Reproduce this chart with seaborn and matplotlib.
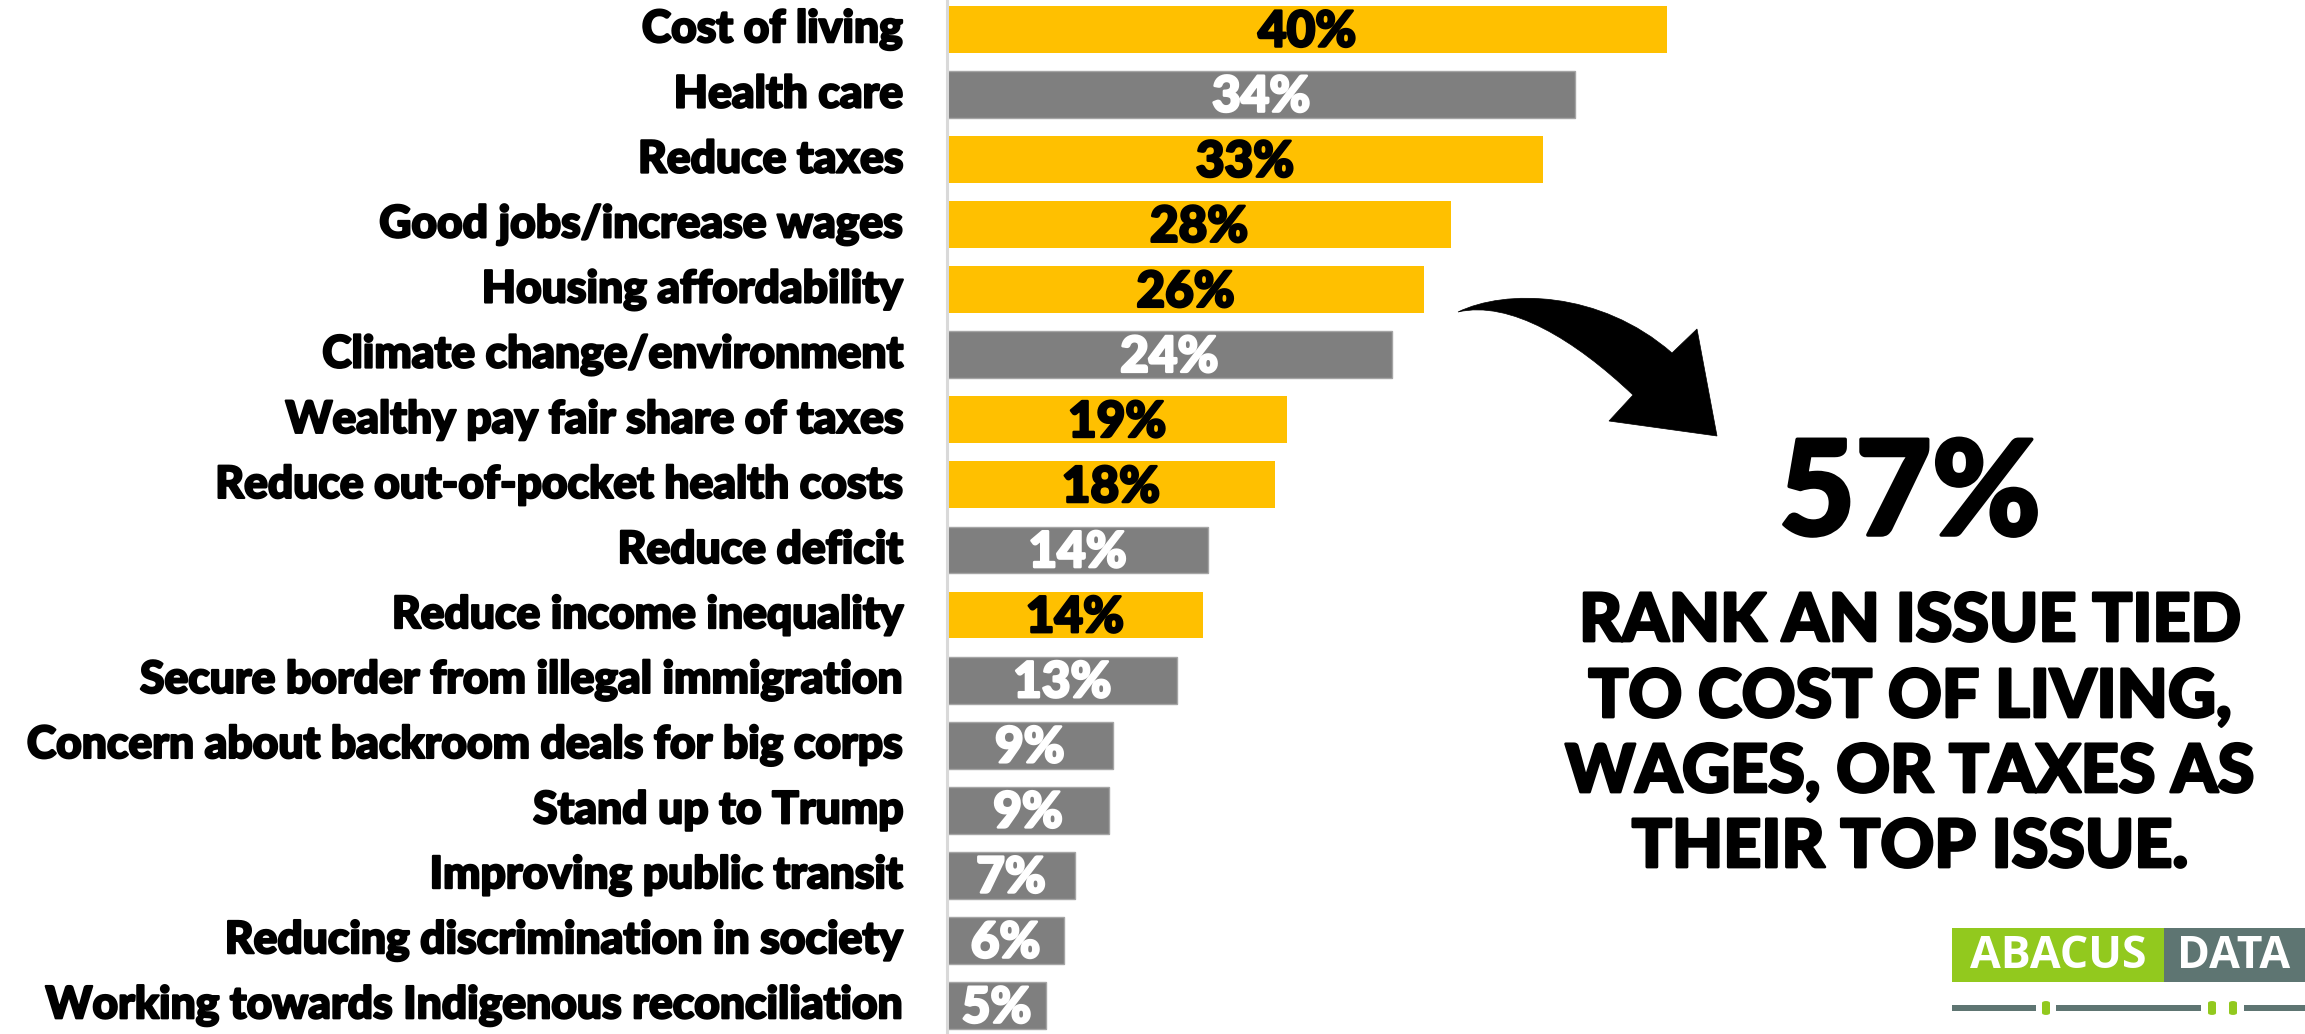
import matplotlib
matplotlib.use("Agg")
import matplotlib.pyplot as plt
from matplotlib.patches import PathPatch, Rectangle, FancyBboxPatch
from matplotlib.path import Path
import matplotlib.patheffects as pe
import seaborn as sns
import pandas as pd

# ---------------- data ----------------
issues = [
    "Cost of living",
    "Health care",
    "Reduce taxes",
    "Good jobs/increase wages",
    "Housing affordability",
    "Climate change/environment",
    "Wealthy pay fair share of taxes",
    "Reduce out-of-pocket health costs",
    "Reduce deficit",
    "Reduce income inequality",
    "Secure border from illegal immigration",
    "Concern about backroom deals for big corps",
    "Stand up to Trump",
    "Improving public transit",
    "Reducing discrimination in society",
    "Working towards Indigenous reconciliation",
]
values = [40.0, 34.9, 33.1, 28.0, 26.5, 24.7, 18.9, 18.2, 14.5, 14.2, 12.8, 9.2, 9.0, 7.1, 6.5, 5.5]
value_labels = ["40%", "34%", "33%", "28%", "26%", "24%", "19%", "18%", "14%", "14%",
                "13%", "9%", "9%", "7%", "6%", "5%"]
groups = ["cost", "other", "cost", "cost", "cost", "other", "cost", "cost", "other", "cost",
          "other", "other", "other", "other", "other", "other"]
headline = "57%"
headline_lines = ["RANK AN ISSUE TIED", "TO COST OF LIVING,", "WAGES, OR TAXES AS", "THEIR TOP ISSUE."]

YELLOW = "#FFC000"
GRAY = "#7F7F7F"
FONT = "Lato"

W, H = 2305, 1034
DPI = 100
fig = plt.figure(figsize=(W / DPI, H / DPI), dpi=DPI)
fig.patch.set_facecolor("white")
renderer = fig.canvas.get_renderer()


def heavy(color, lw=1.6):
    return [pe.Stroke(linewidth=lw, foreground=color), pe.Normal()]


def fit(text_obj, target_px):
    w = text_obj.get_window_extent(renderer=renderer).width
    text_obj.set_fontsize(text_obj.get_fontsize() * target_px / w)


def px(x, y):
    return x / W, 1 - y / H


# ---------------- bars ----------------
ax_left = 947
ax = fig.add_axes([ax_left / W, 0, 1 - ax_left / W, 1])
df = pd.DataFrame({"issue": issues, "value": values, "group": groups})
sns.barplot(data=df, x="value", y="issue", hue="group", order=issues,
            palette={"cost": YELLOW, "other": GRAY}, dodge=False, width=0.72,
            legend=False, orient="h", ax=ax, saturation=1)
for patch in ax.patches:
    if matplotlib.colors.to_hex(patch.get_facecolor()).lower() == GRAY.lower():
        patch.set_edgecolor("#A5A5A5")
        patch.set_linewidth(1.0)
    else:
        patch.set_linewidth(0)

px_per_pct = (1667 - 947) / 40.0
ax.set_xlim(0, (W - ax_left) / px_per_pct)
row = 65.07
ax.set_ylim(15 + (H - 1005.5) / row, -29.4 / row)
ax.set_facecolor("white")
for s in ["top", "right", "bottom"]:
    ax.spines[s].set_visible(False)
ax.spines["left"].set_color("#D9D9D9")
ax.spines["left"].set_linewidth(2.2)
ax.set_xticks([])
ax.set_xlabel("")
ax.set_ylabel("")
ax.tick_params(axis="y", length=0, pad=44 * 72 / DPI)
ax.set_yticks(range(len(issues)))
ax.set_yticklabels(issues, fontfamily=FONT, fontweight="black", fontsize=26, color="black")

lab = ax.get_yticklabels()[-1]
fig.canvas.draw()
w = lab.get_window_extent(renderer=renderer).width
new_size = 26 * 858 / w
for t in ax.get_yticklabels():
    t.set_fontsize(new_size)
    t.set_path_effects(heavy("black", 1.6))
    t.set_va("center")

# value labels
bars = sorted([p for p in ax.patches if p.get_width() > 0], key=lambda p: p.get_y())
vt = []
for b, lbl, g in zip(bars, value_labels, groups):
    c = "black" if g == "cost" else "white"
    t = ax.text(b.get_x() + b.get_width() / 2, b.get_y() + b.get_height() / 2 + 0.04, lbl,
                ha="center", va="center", fontfamily=FONT, fontweight="black",
                fontsize=30, color=c, path_effects=heavy(c, 1.8))
    vt.append(t)
fig.canvas.draw()
w = vt[0].get_window_extent(renderer=renderer).width
vs = 30 * 98 / w
for t in vt:
    t.set_fontsize(vs)

# ---------------- annotation ----------------
cx = 1910
t57 = fig.text(*px(cx, 497), headline, ha="center", va="center", fontfamily=FONT,
               fontweight="black", fontsize=80, color="black",
               path_effects=heavy("black", 2.5))
fit(t57, 262)
line_y = [622, 698, 773, 848]
tl = []
for yy, s in zip(line_y, headline_lines):
    tl.append(fig.text(*px(cx, yy), s, ha="center", va="center", fontfamily=FONT,
                       fontweight="black", fontsize=40, color="black",
                       path_effects=heavy("black", 2.0)))
fig.canvas.draw()
w0 = tl[0].get_window_extent(renderer=renderer).width
for t in tl:
    t.set_fontsize(40 * 662 / w0)

# ---------------- curved arrow ----------------
verts_px = [
    (1458, 312),
    (1505, 289), (1600, 290), (1672, 353),   # upper curve
    (1697, 329),                              # upper barb
    (1717, 436),                              # tip
    (1609, 421),                              # lower barb
    (1633, 395),
    (1575, 340), (1510, 300), (1458, 312),   # lower curve back
    (1458, 312),
]
codes = [Path.MOVETO, Path.CURVE4, Path.CURVE4, Path.CURVE4, Path.LINETO, Path.LINETO,
         Path.LINETO, Path.LINETO, Path.CURVE4, Path.CURVE4, Path.CURVE4, Path.CLOSEPOLY]
verts = [px(x, y) for x, y in verts_px]
fig.patches.append(PathPatch(Path(verts, codes), transform=fig.transFigure,
                             facecolor="black", edgecolor="black", lw=0.5))

# ---------------- logo ----------------
LG = "#92C91E"
LD = "#5E7572"
fig.patches.append(Rectangle(px(1952, 982), (2164 - 1952) / W, 54 / H,
                             transform=fig.transFigure, facecolor=LG, edgecolor="none"))
fig.patches.append(Rectangle(px(2164, 982), (W - 2164) / W, 54 / H,
                             transform=fig.transFigure, facecolor=LD, edgecolor="none"))
ta = fig.text(*px(2058, 957), "ABACUS", ha="center", va="center", fontfamily="Open Sans",
              fontweight="bold", fontsize=22, color="white")
td = fig.text(*px(2234, 957), "DATA", ha="center", va="center", fontfamily="Open Sans",
              fontweight="bold", fontsize=22, color="white")
fit(ta, 176)
td.set_fontsize(ta.get_fontsize())
segs = [(1952, 2036), (2056, 2201), (2244, W)]
for a, b in segs:
    fig.patches.append(Rectangle(px(a, 1011), (b - a) / W, 6 / H,
                                 transform=fig.transFigure, facecolor=LD, edgecolor="none"))
for xc in [2046, 2212, 2233]:
    fig.patches.append(FancyBboxPatch(px(xc - 4, 1015), 8 / W, 14 / H,
                                      boxstyle="round,pad=0,rounding_size=0.002",
                                      transform=fig.transFigure, facecolor=LG, edgecolor="none"))

fig.savefig("out.png", dpi=DPI, facecolor="white")
